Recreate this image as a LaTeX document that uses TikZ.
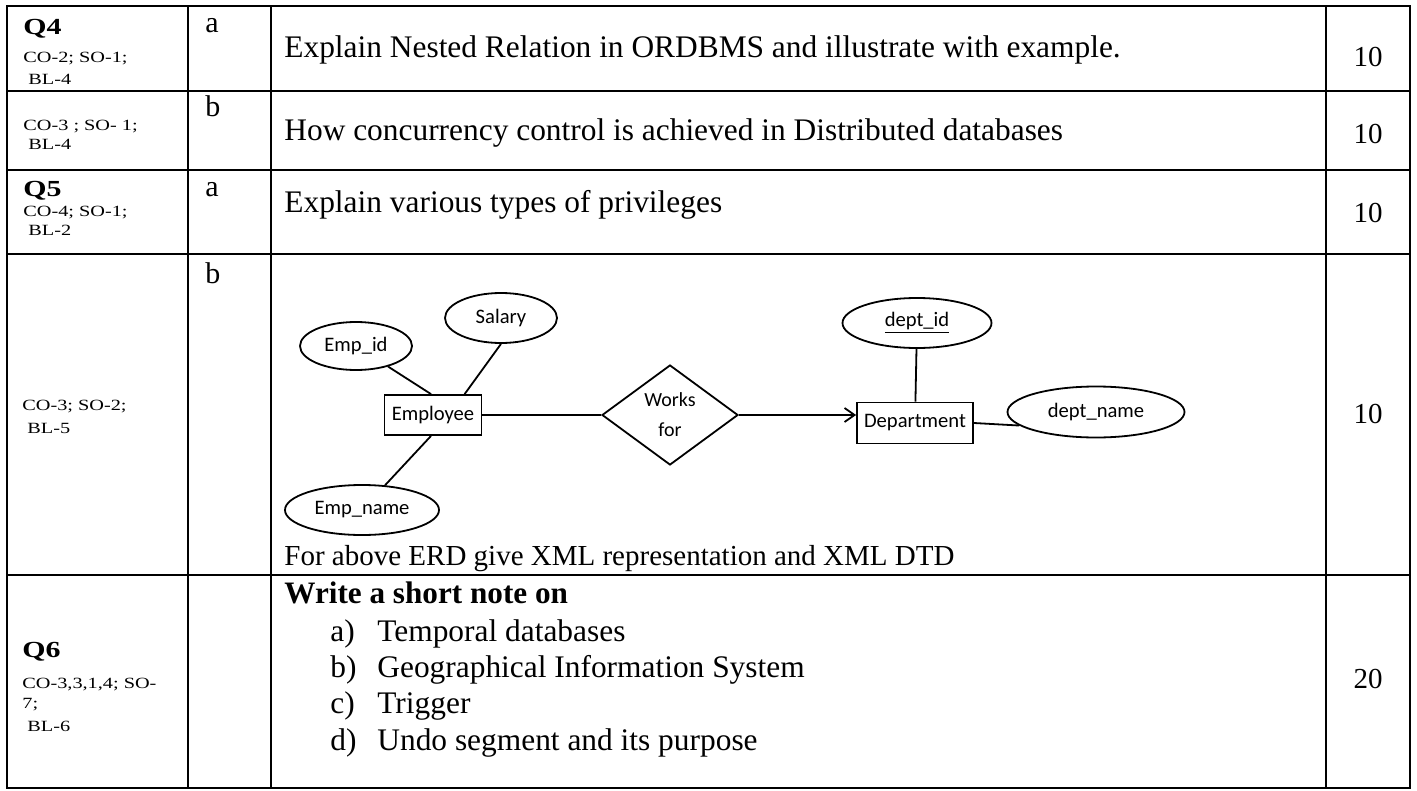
\documentclass[tikz,border=0pt]{standalone}
\usepackage{fontspec}
\setmainfont{Liberation Serif}
\newfontfamily\wideserif[FakeStretch=1.3]{Liberation Serif}
\newfontfamily\erfont{Carlito}
\usetikzlibrary{shapes.geometric,arrows.meta,calc}
\tikzset{
  grid/.style={line width=0.8pt},
  maintext/.style={anchor=base west, inner sep=0pt, font=\fontsize{15.7pt}{18pt}\selectfont},
  smallertext/.style={anchor=base west, inner sep=0pt, font=\fontsize{14.5pt}{18pt}\selectfont},
  boldtext/.style={anchor=base west, inner sep=0pt, font=\bfseries\fontsize{15.6pt}{18pt}\selectfont},
  qlabel/.style={anchor=base west, inner sep=0pt, font=\wideserif\bfseries\fontsize{11.5pt}{13pt}\selectfont},
  colabel/.style={anchor=base west, inner sep=0pt, font=\wideserif\fontsize{7.8pt}{9pt}\selectfont},
  subq/.style={anchor=base west, inner sep=0pt, font=\fontsize{15pt}{18pt}\selectfont},
  marks/.style={anchor=base, inner sep=0pt, font=\fontsize{14.5pt}{18pt}\selectfont},
  attr/.style={ellipse, draw, line width=0.9pt, inner sep=0pt, font=\erfont\fontsize{10.3pt}{12pt}\selectfont},
  entity/.style={rectangle, draw, line width=0.9pt, inner sep=0pt, font=\erfont\fontsize{10.3pt}{12pt}\selectfont},
  rel/.style={diamond, draw, line width=0.9pt, inner sep=0pt, align=center, font=\erfont\fontsize{10pt}{15pt}\selectfont},
  link/.style={line width=0.9pt},
}
\begin{document}
\begin{tikzpicture}[x=0.5pt,y=-0.5pt]
\useasboundingbox (0,0) rectangle (1417,791);
% table grid
\draw[grid] (7,6) rectangle (1410,788);
\foreach \yy in {91,170,254,575} \draw[grid] (7,\yy) -- (1410,\yy);
\foreach \xx in {188,271,1326} \draw[grid] (\xx,6) -- (\xx,788);

% column 1
\node[qlabel] (q4) at (23,35) {Q4};
\node[colabel] (c1a) at (23,63) {CO-2; SO-1;};
\node[colabel] (c1b) at (23,85) {\ BL-4};
\node[colabel] (c2a) at (23,131) {CO-3 ; SO- 1;};
\node[colabel] (c2b) at (23,150) {\ BL-4};
\node[qlabel] (q5) at (23,197) {Q5};
\node[colabel] (c3a) at (23,217) {CO-4; SO-1;};
\node[colabel] (c3b) at (23,235) {\ BL-2};
\node[colabel] (c4a) at (22,410) {CO-3; SO-2;};
\node[colabel] (c4b) at (22,433) {\ BL-5};
\node[qlabel] (q6) at (22,657) {Q6};
\node[colabel] (c5a) at (22,688) {CO-3,3,1,4; SO-};
\node[colabel] (c5b) at (22,708) {7;};
\node[colabel] (c5c) at (22,731) {\ BL-6};

% column 2
\node[subq] (sa1) at (205,33) {a};
\node[subq] (sb1) at (205,117) {b};
\node[subq] (sa2) at (205,197) {a};
\node[subq] (sb2) at (205,283) {b};

% column 3 text
\node[maintext] (t1) at (284,58) {Explain Nested Relation in ORDBMS and illustrate with example.};
\node[maintext] (t2) at (284,141) {How concurrency control is achieved in Distributed databases};
\node[maintext] (t3) at (284,213) {Explain various types of privileges};
\node[smallertext] (t4) at (284,565) {For above ERD give XML representation and XML DTD};
\node[boldtext] (t5) at (284,603) {Write a short note on};
\node[maintext] (la) at (330,641) {a)};
\node[maintext] (ia) at (377,641) {Temporal databases};
\node[maintext] (lb) at (330,677) {b)};
\node[maintext] (ib) at (377,677) {Geographical Information System};
\node[maintext] (lc) at (330,713) {c)};
\node[maintext] (ic) at (377,713) {Trigger};
\node[maintext] (ld) at (330,750) {d)};
\node[maintext] (id) at (377,750) {Undo segment and its purpose};

% column 4 marks
\node[marks] (m1) at (1368,67) {10};
\node[marks] (m2) at (1368,144) {10};
\node[marks] (m3) at (1368,222) {10};
\node[marks] (m4) at (1368,423) {10};
\node[marks] (m5) at (1368,688) {20};

% ER diagram
\node[attr, minimum width=56pt, minimum height=24pt] (empid) at (356,346) {Emp\_id};
\node[attr, minimum width=56pt, minimum height=25pt] (salary) at (501,318) {Salary};
\node[entity, minimum width=48.5pt, minimum height=20pt] (emp) at (433,415) {Employee};
\node[attr, minimum width=77pt, minimum height=25pt] (empname) at (362,510) {Emp\_name};
\node[rel, minimum width=68pt, minimum height=50pt] (works) at (670,415) {Works\\for};
\node[entity, minimum width=58pt, minimum height=20.5pt] (dept) at (915,423) {Department};
\node[attr, minimum width=74.5pt, minimum height=25pt] (deptid) at (917,323) {\underline{dept\_id}};
\node[attr, minimum width=88.5pt, minimum height=25.5pt] (deptname) at (1096,412) {dept\_name};

\draw[link] (empid) -- ($(emp.north west)!0.48!(emp.north east)$);
\draw[link] (salary.south) -- ($(emp.north west)!0.82!(emp.north east)$);
\draw[link] ($(emp.south west)!0.48!(emp.south east)$) -- (empname);
\draw[link] (emp.east) -- (works.west);
\draw[link, -{Straight Barb[length=5pt,width=7pt]}] (works.east) -- (works.east -| dept.west);
\draw[link] (deptid) -- (dept);
\draw[link] (dept.east) -- (deptname.190);
\end{tikzpicture}
\end{document}
